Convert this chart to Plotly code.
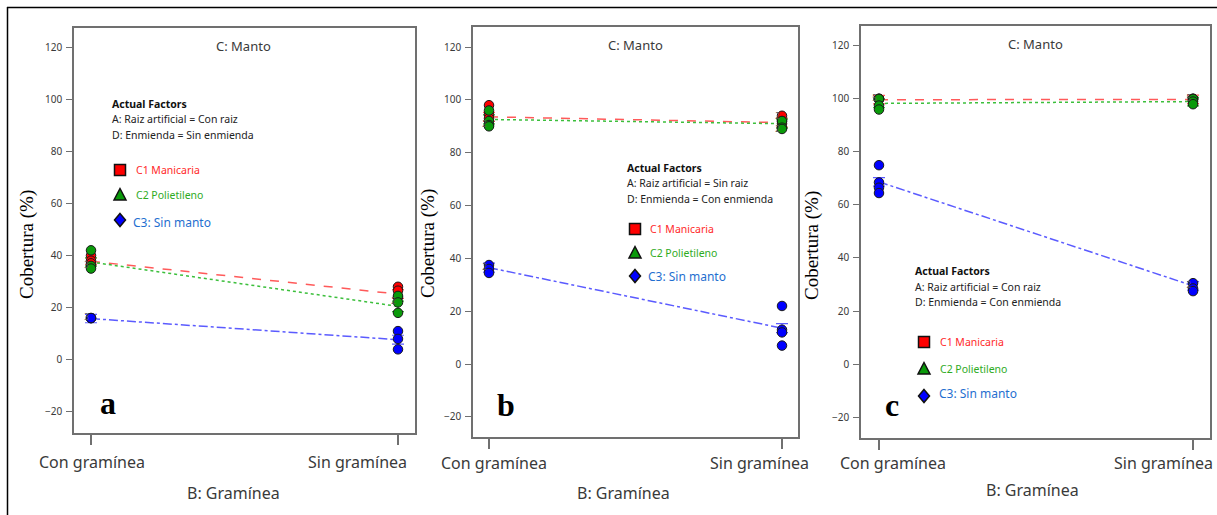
import plotly.graph_objects as go

W, H = 1217, 515

# ---- data -------------------------------------------------------------
categories = ["Con gramínea", "Sin gramínea"]
y_ticks = [-20, 0, 20, 40, 60, 80, 100, 120]
series_names = ["C1 Manicaria", "C2 Polietileno", "C3: Sin manto"]

# panel a: Con raiz / Sin enmienda
a_manicaria_con = [40, 38, 37]
a_manicaria_sin = [28, 26.5, 24]
a_polietileno_con = [42, 36, 35]
a_polietileno_sin = [24.5, 22, 18]
a_sinmanto_con = [16, 16, 16]
a_sinmanto_sin = [11, 8, 4]
a_means = {"manicaria": [37.8, 25.2], "polietileno": [37.5, 20.5], "sinmanto": [15.8, 7.7]}
a_half_lsd = {"manicaria": [1.3, 1.7], "polietileno": [1.6, 2.0], "sinmanto": [1.6, 1.7]}

# panel b: Sin raiz / Con enmienda
b_manicaria_con = [98, 94.5, 93]
b_manicaria_sin = [94, 92, 91]
b_polietileno_con = [96, 92, 90.5, 90]
b_polietileno_sin = [92, 89.5, 89]
b_sinmanto_con = [37.5, 36, 34.5]
b_sinmanto_sin = [22, 13, 12, 7]
b_means = {"manicaria": [93.6, 91.4], "polietileno": [92.6, 91.0], "sinmanto": [36.5, 13.6]}
b_half_lsd = {"manicaria": [1.7, 1.7], "polietileno": [1.7, 1.7], "sinmanto": [1.7, 1.7]}

# panel c: Con raiz / Con enmienda
c_manicaria_con = [100, 100, 100]
c_manicaria_sin = [100, 100, 100]
c_polietileno_con = [100, 97.5, 96]
c_polietileno_sin = [100, 99, 98]
c_sinmanto_con = [75, 68.5, 66.5, 64.5]
c_sinmanto_sin = [30.5, 28.5, 27.5]
c_means = {"manicaria": [99.7, 99.8], "polietileno": [98.3, 99.0], "sinmanto": [68.7, 29.5]}
c_half_lsd = {"manicaria": [1.6, 1.6], "polietileno": [1.6, 1.6], "sinmanto": [1.6, 1.6]}

# overlap counts shown beside stacked points: (category index, value, label)
a_counts = [(0, 36, "3"), (0, 16, "3"), (1, 22, "2")]
b_counts = [(0, 90.5, "2"), (0, 36.5, "2"), (1, 93.6, "2"), (1, 88.8, "2")]
c_counts = [(0, 100, "5"), (1, 100, "5"), (1, 29.5, "2")]

factors_a = ["A: Raiz artificial = Con raiz", "D: Enmienda = Sin enmienda"]
factors_b = ["A: Raiz artificial = Sin raiz", "D: Enmienda = Con enmienda"]
factors_c = ["A: Raiz artificial = Con raiz", "D: Enmienda = Con enmienda"]

# ---- styling ----------------------------------------------------------
point_fill = {"manicaria": "#ff0000", "polietileno": "#0a9a0a", "sinmanto": "#0000ff"}
line_color = {"manicaria": "#ff5a5a", "polietileno": "#3cbf3c", "sinmanto": "#5b5bff"}
line_dash = {"manicaria": "dash", "polietileno": "dot", "sinmanto": "dashdot"}
label_color = ["#ff2a2a", "#2eab1e", "#1f6fd0"]
AX = "#707070"
TXT = "#3a3a3a"
SANS = "Noto Sans"
SERIF = "Liberation Serif"


def px(x):
    return x / W


def py(y):
    return 1 - y / H


panels = [
    dict(sfx="", box=(74, 415, 28, 433), xr=[-0.0554, 1.0554], yr=[-28.1, 127.3],
         pts={"manicaria": (a_manicaria_con, a_manicaria_sin),
              "polietileno": (a_polietileno_con, a_polietileno_sin),
              "sinmanto": (a_sinmanto_con, a_sinmanto_sin)},
         means=a_means, lsd=a_half_lsd, counts=a_counts),
    dict(sfx="2", box=(473, 798, 27, 437), xr=[-0.0546, 1.0546], yr=[-27.6, 127.6],
         pts={"manicaria": (b_manicaria_con, b_manicaria_sin),
              "polietileno": (b_polietileno_con, b_polietileno_sin),
              "sinmanto": (b_sinmanto_con, b_sinmanto_sin)},
         means=b_means, lsd=b_half_lsd, counts=b_counts),
    dict(sfx="3", box=(861, 1210, 26, 438), xr=[-0.0573, 1.054], yr=[-27.9, 127.5],
         pts={"manicaria": (c_manicaria_con, c_manicaria_sin),
              "polietileno": (c_polietileno_con, c_polietileno_sin),
              "sinmanto": (c_sinmanto_con, c_sinmanto_sin)},
         means=c_means, lsd=c_half_lsd, counts=c_counts),
]

fig = go.Figure()
layout = dict(width=W, height=H, margin=dict(l=0, r=0, t=0, b=0),
              paper_bgcolor="white", plot_bgcolor="white", showlegend=False)

for p in panels:
    xa, ya = "x" + p["sfx"], "y" + p["sfx"]
    x0, x1, y0, y1 = p["box"]
    layout["xaxis" + p["sfx"]] = dict(
        domain=[px(x0), px(x1)], range=p["xr"], anchor=ya,
        tickvals=[0, 1], showticklabels=False, ticks="outside", ticklen=10,
        tickcolor=AX, tickwidth=1.5, showline=True, linecolor=AX, linewidth=1.5,
        mirror=True, showgrid=False, zeroline=False, fixedrange=True)
    layout["yaxis" + p["sfx"]] = dict(
        domain=[py(y1), py(y0)], range=p["yr"], anchor=xa,
        tickvals=y_ticks, ticks="outside", ticklen=6, tickcolor=AX, tickwidth=1,
        tickfont=dict(family=SANS, size=10, color=TXT), ticklabelstandoff=2,
        showline=True, linecolor=AX, linewidth=1.5, mirror=True,
        showgrid=False, zeroline=False, fixedrange=True)

    # model means with LSD bars
    for key in ["manicaria", "polietileno", "sinmanto"]:
        fig.add_trace(go.Scatter(
            x=[0, 1], y=p["means"][key], xaxis=xa, yaxis=ya, mode="lines",
            line=dict(color=line_color[key], dash=line_dash[key], width=1.5),
            error_y=dict(type="data", array=p["lsd"][key], color=line_color[key],
                         thickness=1.2, width=6),
            hoverinfo="skip"))
    # observed points
    for key in ["manicaria", "polietileno", "sinmanto"]:
        con, sin = p["pts"][key]
        fig.add_trace(go.Scatter(
            x=[0] * len(con) + [1] * len(sin), y=con + sin, xaxis=xa, yaxis=ya,
            mode="markers",
            marker=dict(symbol="circle", size=9.5, color=point_fill[key],
                        line=dict(color="#1a1a1a", width=1))))
    # overlap counts
    fig.add_trace(go.Scatter(
        x=[c[0] for c in p["counts"]], y=[c[1] for c in p["counts"]],
        text=["%s " % c[2] for c in p["counts"]], xaxis=xa, yaxis=ya,
        mode="text", textposition="middle left",
        textfont=dict(family=SANS, size=8, color="#555555"), hoverinfo="skip"))

ann = []
shapes = []


def text(x, y, s, size=10, color=TXT, family=SANS, xanchor="left", **kw):
    ann.append(dict(x=px(x), y=py(y), xref="paper", yref="paper", text=s,
                    showarrow=False, xanchor=xanchor, yanchor="middle",
                    font=dict(family=family, size=size, color=color), **kw))


def glyphs(cx, ys, xtext):
    # key glyphs: square / triangle / diamond with coloured names
    (sy, ty, dy) = ys
    shapes.append(dict(type="rect", xref="paper", yref="paper",
                       x0=px(cx - 5.5), x1=px(cx + 5.5), y0=py(sy + 5.5), y1=py(sy - 5.5),
                       fillcolor="#ff0000", line=dict(color="#111111", width=1.5)))
    tri = "M %f,%f L %f,%f L %f,%f Z" % (px(cx), py(ty - 6.5), px(cx + 6), py(ty + 5),
                                         px(cx - 6), py(ty + 5))
    shapes.append(dict(type="path", xref="paper", yref="paper", path=tri,
                       fillcolor="#0a9a0a", line=dict(color="#111111", width=1.5)))
    dia = "M %f,%f L %f,%f L %f,%f L %f,%f Z" % (px(cx), py(dy - 6.5), px(cx + 5.5), py(dy),
                                                 px(cx), py(dy + 6.5), px(cx - 5.5), py(dy))
    shapes.append(dict(type="path", xref="paper", yref="paper", path=dia,
                       fillcolor="#0000ff", line=dict(color="#111111", width=1.5)))
    text(xtext[0], sy, series_names[0], size=10.5, color=label_color[0])
    text(xtext[0], ty, series_names[1], size=10.5, color=label_color[1])
    text(xtext[1], xtext[2], series_names[2], size=12, color=label_color[2])


# panel titles, axis titles, tick labels, panel letters
for cx, ytitle in [(243, 46), (635, 45), (1035, 44)]:
    text(cx, ytitle, "C: Manto", size=13, xanchor="center")
for cx, ylab in [(233, 493), (623, 493), (1032, 490)]:
    text(cx, ylab, "B: Gramínea", size=16, xanchor="center")
for xc, xs, yl in [(92, 357, 462), (494, 759, 463), (893, 1163, 463)]:
    text(xc, yl, categories[0], size=16, xanchor="center")
    text(xs, yl, categories[1], size=16, xanchor="center")
for xt, yt in [(27, 245), (428, 244), (812, 246)]:
    text(xt, yt, "Cobertura (%)", size=19, color="#000000", family=SERIF,
         xanchor="center", textangle=-90)
for xl, yl, s in [(108, 403, "a"), (506, 405, "b"), (892, 405, "c")]:
    text(xl, yl, "<b>%s</b>" % s, size=32, color="#000000", family=SERIF,
         xanchor="center")

# actual-factor notes
for (xf, yf, lines) in [(110, 104, factors_a), (625, 168, factors_b), (913, 271, factors_c)]:
    text(xf, yf, "<b>Actual Factors</b>", size=10.5, color="#111111")
    text(xf, yf + 15.5, lines[0], size=10.5, color="#222222")
    text(xf, yf + 31, lines[1], size=10.5, color="#222222")

glyphs(120, (170, 195, 220), (134, 131, 222))
glyphs(635, (229, 253, 276), (648, 646, 276))
glyphs(924, (342, 369, 396), (938, 937, 393))

# outer frame (top and left edges)
shapes.append(dict(type="line", xref="paper", yref="paper", x0=px(7), x1=1,
                   y0=py(7.5), y1=py(7.5), line=dict(color="#000000", width=1.5)))
shapes.append(dict(type="line", xref="paper", yref="paper", x0=px(7.5), x1=px(7.5),
                   y0=py(7), y1=0, line=dict(color="#000000", width=1.5)))

layout["annotations"] = ann
layout["shapes"] = shapes
fig.update_layout(**layout)
fig.write_html("out.html")
